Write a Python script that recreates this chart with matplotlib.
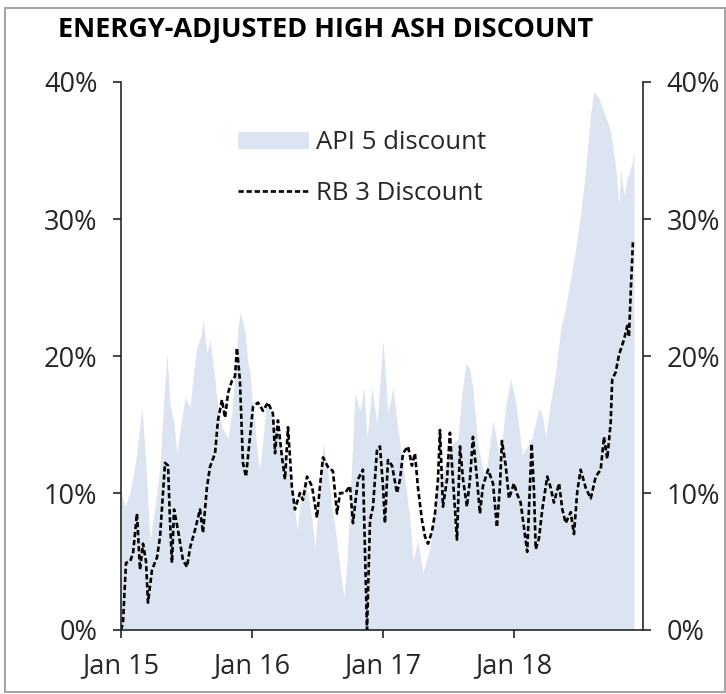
import matplotlib
matplotlib.use("Agg")
import matplotlib.pyplot as plt
from matplotlib.patches import Rectangle

plt.rcParams['font.family'] = ['Open Sans', 'DejaVu Sans']
plt.rcParams['lines.scale_dashes'] = False

title = "ENERGY-ADJUSTED HIGH ASH DISCOUNT"
series_api = "API 5 discount"
series_rb = "RB 3 Discount"

# decimal-year time axis
api_t = [2015.000, 2015.031, 2015.069, 2015.115, 2015.160, 2015.191, 2015.221, 2015.260, 2015.298,
         2015.328, 2015.351, 2015.374, 2015.405, 2015.427, 2015.458, 2015.489, 2015.527, 2015.557,
         2015.580, 2015.611, 2015.626, 2015.656, 2015.679, 2015.718, 2015.740, 2015.771, 2015.817,
         2015.847, 2015.870, 2015.893, 2015.908, 2015.931, 2015.947, 2015.969, 2015.985, 2016.000,
         2016.031, 2016.053, 2016.076, 2016.107, 2016.137, 2016.168, 2016.198, 2016.237, 2016.275,
         2016.313, 2016.344, 2016.366, 2016.397, 2016.427, 2016.458, 2016.481, 2016.511, 2016.542,
         2016.573, 2016.611, 2016.641, 2016.672, 2016.702, 2016.725, 2016.756, 2016.786, 2016.824,
         2016.855, 2016.878, 2016.916, 2016.954, 2017.000, 2017.038, 2017.076, 2017.115, 2017.168,
         2017.206, 2017.229, 2017.267, 2017.305, 2017.359, 2017.412, 2017.473, 2017.527, 2017.573,
         2017.603, 2017.634, 2017.664, 2017.687, 2017.725, 2017.779, 2017.840, 2017.893, 2017.939,
         2017.975, 2018.013, 2018.063, 2018.107, 2018.140, 2018.191, 2018.216, 2018.242, 2018.280,
         2018.318, 2018.357, 2018.395, 2018.433, 2018.471, 2018.509, 2018.547, 2018.586, 2018.611,
         2018.649, 2018.687, 2018.738, 2018.776, 2018.802, 2018.815, 2018.840, 2018.865, 2018.903,
         2018.916]
api_v = [10, 9, 10, 12.5, 16.2, 12, 6.5, 9, 12,
         17, 20.2, 16.5, 15, 12.9, 15, 17, 16.3, 19,
         20.7, 21.5, 22.6, 20.2, 21.2, 18.2, 16, 14.8, 14,
         16, 18.8, 22, 23.2, 22.5, 21.7, 19.5, 18.8, 17,
         14, 11.7, 13, 16.5, 16, 15, 14.5, 13, 12,
         10, 7.3, 9, 11, 10, 8, 6, 10, 13.6,
         12, 9, 7, 4.5, 2.4, 5, 11, 17.3, 16,
         17.7, 14, 17.7, 15, 21.2, 15.8, 17.7, 14.6, 11,
         8, 5.1, 6.5, 4.2, 6, 10.4, 12, 13.5, 14,
         17.3, 19.5, 19, 17.5, 13.5, 11, 15.3, 12.5, 16.5,
         18.3, 16.7, 12.8, 13.5, 14.1, 16.2, 15.7, 14.1, 16.7,
         18.8, 22.0, 23.6, 25.7, 27.8, 30.4, 33.6, 37.8, 39.3,
         38.8, 37.8, 36.4, 33.8, 30.9, 33.6, 31.7, 33.0, 34.1,
         35.0]

rb_t = [2015.000, 2015.015, 2015.038, 2015.069, 2015.092, 2015.122, 2015.145, 2015.168, 2015.191,
        2015.206, 2015.237, 2015.275, 2015.298, 2015.321, 2015.336, 2015.359, 2015.374, 2015.389,
        2015.405, 2015.435, 2015.473, 2015.504, 2015.527, 2015.565, 2015.603, 2015.626, 2015.656,
        2015.679, 2015.718, 2015.740, 2015.771, 2015.794, 2015.817, 2015.847, 2015.870, 2015.885,
        2015.908, 2015.931, 2015.954, 2015.985, 2016.008, 2016.046, 2016.084, 2016.122, 2016.160,
        2016.176, 2016.198, 2016.229, 2016.252, 2016.275, 2016.305, 2016.328, 2016.366, 2016.389,
        2016.420, 2016.458, 2016.496, 2016.519, 2016.542, 2016.580, 2016.618, 2016.649, 2016.672,
        2016.710, 2016.748, 2016.771, 2016.809, 2016.847, 2016.870, 2016.878, 2016.901, 2016.924,
        2016.954, 2016.977, 2017.000, 2017.015, 2017.038, 2017.069, 2017.107, 2017.130, 2017.153,
        2017.191, 2017.221, 2017.244, 2017.267, 2017.298, 2017.321, 2017.344, 2017.374, 2017.397,
        2017.420, 2017.435, 2017.458, 2017.489, 2017.511, 2017.534, 2017.565, 2017.588, 2017.611,
        2017.641, 2017.664, 2017.687, 2017.718, 2017.740, 2017.763, 2017.802, 2017.840, 2017.870,
        2017.893, 2017.908, 2017.937, 2017.962, 2018.000, 2018.025, 2018.051, 2018.076, 2018.101,
        2018.135, 2018.153, 2018.166, 2018.191, 2018.216, 2018.254, 2018.280, 2018.305, 2018.344,
        2018.369, 2018.395, 2018.433, 2018.458, 2018.483, 2018.509, 2018.547, 2018.586, 2018.624,
        2018.662, 2018.687, 2018.712, 2018.738, 2018.750, 2018.776, 2018.802, 2018.840, 2018.865,
        2018.878, 2018.891, 2018.908]
rb_v = [0, 0.5, 4.9, 5, 5.6, 8.5, 4.4, 6.3, 5,
        2, 4.4, 5.3, 6.8, 10, 12.2, 12, 8, 4.9,
        8.8, 7.3, 5.1, 4.6, 6, 7.3, 8.8, 7.1, 10.4,
        11.9, 12.9, 15.3, 16.8, 15.5, 17.3, 18.2, 18.5, 20.6,
        18.2, 12.2, 11.2, 14.1, 16.3, 16.6, 16, 16.6, 15.8,
        12.9, 15.3, 12.6, 11, 14.8, 10.4, 8.8, 10, 9.5,
        11.2, 10.5, 8.2, 10.5, 12.6, 11.9, 11.6, 8.5, 10,
        10, 10.5, 7.8, 11, 11.7, 3, 0, 8, 9,
        13.1, 13.4, 10.5, 7.8, 12.4, 12, 10, 11, 12.9,
        13.4, 12, 12.9, 10.4, 8, 6.8, 6.3, 7.2, 8.5,
        11, 14.6, 9, 11, 14.4, 11, 6.6, 13.4, 11,
        9, 11, 14.1, 11, 8.5, 10.5, 11.7, 10.7, 7.5,
        10.5, 13.8, 12, 9.6, 10.7, 9.9, 9.3, 7.5, 5.7,
        13.6, 10.1, 5.9, 6.7, 8.8, 11.2, 10.4, 9.3, 10.7,
        8.8, 7.8, 8.6, 7.0, 10.1, 11.7, 10.4, 9.6, 11.2,
        11.7, 14.1, 12.5, 15.1, 18.3, 18.8, 20.1, 21.2, 22.2,
        21.4, 24.6, 28.3]

x_ticks = [2015, 2016, 2017, 2018]
x_labels = ["Jan 15", "Jan 16", "Jan 17", "Jan 18"]
y_ticks = [0, 10, 20, 30, 40]
y_labels = ["0%", "10%", "20%", "30%", "40%"]

W, H = 726, 694
fig = plt.figure(figsize=(W / 100, H / 100), dpi=100)
fig.patches.append(Rectangle((5 / W, 2 / H), (W - 6) / W, (H - 10) / H, transform=fig.transFigure,
                             fill=False, edgecolor="#a6a6a6", linewidth=1.5))

ax = fig.add_axes([121 / W, 1 - 630 / H, (643 - 121) / W, (630 - 82) / H])
ax.fill_between(api_t, 0, api_v, color="#dbe4f0", linewidth=0, label=series_api)
ax.plot(rb_t, rb_v, color="black", linewidth=1.9, linestyle=(0, (3.8, 2.0)), label=series_rb)

ax.set_xlim(2015, 2018.985)
ax.set_ylim(0, 40)
ax.set_xticks(x_ticks)
ax.set_xticklabels(x_labels)
ax.set_yticks(y_ticks)
ax.set_yticklabels(y_labels)

for s in ["left", "right", "bottom"]:
    ax.spines[s].set_color("#262626")
    ax.spines[s].set_linewidth(1.2)
ax.spines["top"].set_visible(False)

ax.tick_params(axis="y", which="both", left=True, right=True, labelleft=True, labelright=True,
               direction="out", length=6, width=1.2, color="#262626", labelsize=19.5,
               labelcolor="#262626", pad=11)
ax.tick_params(axis="x", direction="out", length=6, width=1.2, color="#262626", labelsize=19.5,
               labelcolor="#262626", pad=10)

leg = ax.legend(loc="upper left", bbox_to_anchor=(0.224, 0.912), frameon=False, fontsize=18.5,
                handlelength=2.75, handleheight=0.65, handletextpad=0.3, labelspacing=1.0,
                borderpad=0, borderaxespad=0)
for t in leg.get_texts():
    t.set_color("#262626")

fig.text(58 / W, 1 - 30 / H, title, fontsize=19.5, fontweight="bold", color="black",
         ha="left", va="center")

fig.savefig("out.png", dpi=100)
